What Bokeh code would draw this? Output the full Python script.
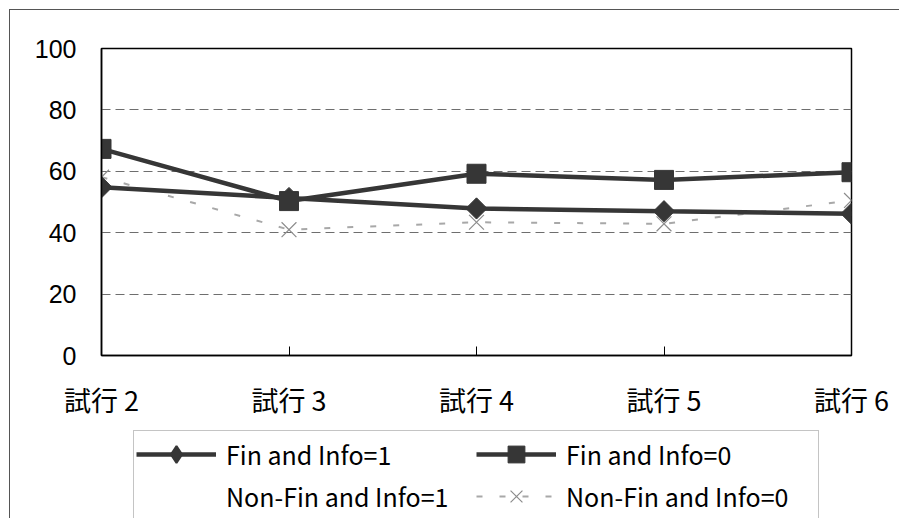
from bokeh.plotting import figure
from bokeh.layouts import column
from bokeh.models import (Range1d, FixedTicker, Legend, LegendItem, ColumnDataSource,
                          InlineStyleSheet)
from bokeh.embed import file_html
from bokeh.resources import INLINE
import math

# trial labels along the x axis
trials = ["試行 2", "試行 3", "試行 4", "試行 5", "試行 6"]
y_ticks = [0, 20, 40, 60, 80, 100]

# series values (percent)
fin_info1 = [54.8, 51.3, 47.9, 47.0, 46.2]
fin_info0 = [67.3, 50.3, 59.2, 57.2, 59.7]
nonfin_info1 = []
nonfin_info0 = [58.1, 41.0, 43.4, 42.9, 50.5]

xs = list(range(len(trials)))

CJK = "Noto Sans CJK JP"
DARK = "#363636"

# style of each series; "legend_marker" replaces the marker in the legend strip
STYLES = {
    "Fin and Info=1": dict(line=dict(line_color=DARK, line_width=4.5),
                           marker=dict(marker="square", size=15, angle=math.pi / 4,
                                       fill_color=DARK, line_color=DARK),
                           legend_marker=dict(marker="diamond", size=23,
                                              fill_color=DARK, line_color=DARK,
                                              line_width=2)),
    "Fin and Info=0": dict(line=dict(line_color=DARK, line_width=4.5),
                           marker=dict(marker="square", size=19,
                                       fill_color=DARK, line_color=DARK)),
    "Non-Fin and Info=1": dict(line=dict(line_color="white", line_alpha=0,
                                         line_width=2),
                               marker=None),
    "Non-Fin and Info=0": dict(line=dict(line_color="#a8a8a8", line_width=2,
                                         line_dash="6 17"),
                               marker=dict(marker="x", size=21,
                                           line_color="#8c8c8c", line_width=1.2)),
}
SERIES = {
    "Fin and Info=1": fin_info1,
    "Fin and Info=0": fin_info0,
    "Non-Fin and Info=1": nonfin_info1,
    "Non-Fin and Info=0": nonfin_info0,
}
# draw order: light series underneath the dark ones
DRAW_ORDER = ["Non-Fin and Info=0", "Non-Fin and Info=1",
              "Fin and Info=1", "Fin and Info=0"]
# legend order, filled column by column
LEGEND_ORDER = ["Fin and Info=1", "Non-Fin and Info=1",
                "Fin and Info=0", "Non-Fin and Info=0"]


def add_series(fig, name, for_legend=False):
    vals = SERIES[name]
    src = ColumnDataSource(dict(x=xs[:len(vals)], y=vals))
    st = STYLES[name]
    rs = [fig.line("x", "y", source=src, **st["line"])]
    marker = st["marker"]
    if for_legend and "legend_marker" in st:
        marker = st["legend_marker"]
    if marker is not None:
        rs.append(fig.scatter("x", "y", source=src, **marker))
    return rs


# ---- main chart ----
p = figure(width=899, height=430, output_backend="svg", toolbar_location=None,
           x_range=Range1d(0, len(trials) - 1), y_range=Range1d(0, 100),
           min_border_left=101, min_border_right=48, min_border_top=48,
           min_border_bottom=75, background_fill_color="white",
           border_fill_color="white")

p.outline_line_color = "black"
p.outline_line_width = 1.5

p.xaxis.ticker = FixedTicker(ticks=xs)
p.xaxis.major_label_overrides = {i: t for i, t in enumerate(trials)}
p.xaxis.major_label_text_font = CJK
p.xaxis.major_label_text_font_size = "27px"
p.xaxis.major_label_text_color = "black"
p.xaxis.major_label_standoff = 24
p.xaxis.major_tick_in = 9
p.xaxis.major_tick_out = 0
p.xaxis.minor_tick_line_color = None
p.xaxis.axis_line_width = 1.5
p.xaxis.axis_line_color = "black"
p.xaxis.major_tick_line_color = "black"

p.yaxis.ticker = FixedTicker(ticks=y_ticks)
p.yaxis.major_label_text_font = "Liberation Sans"
p.yaxis.major_label_text_font_size = "25px"
p.yaxis.major_label_text_color = "black"
p.yaxis.major_label_standoff = 25
p.yaxis.major_tick_in = 0
p.yaxis.major_tick_out = 0
p.yaxis.minor_tick_line_color = None
p.yaxis.axis_line_width = 1.5
p.yaxis.axis_line_color = "black"

p.xgrid.grid_line_color = None
p.ygrid.ticker = FixedTicker(ticks=[20, 40, 60, 80])
p.ygrid.grid_line_color = "#6e6e6e"
p.ygrid.grid_line_dash = "9 5"
p.ygrid.grid_line_width = 1.2

for name in DRAW_ORDER:
    add_series(p, name)

# ---- legend strip (its ranges keep the series themselves out of view;
#      its frame lines up with the chart frame above) ----
leg = figure(width=899, height=88, output_backend="svg", toolbar_location=None,
             x_axis_type=None, y_axis_type=None,
             x_range=Range1d(0, len(trials) - 1), y_range=Range1d(1000, 1100),
             min_border=0, background_fill_color="white",
             border_fill_color="white", outline_line_color=None)
leg.xgrid.grid_line_color = None
leg.ygrid.grid_line_color = None

legend_renderers = {name: add_series(leg, name, for_legend=True)
                    for name in DRAW_ORDER}

legend = Legend(items=[LegendItem(label=n, renderers=legend_renderers[n])
                       for n in LEGEND_ORDER],
                nrows=2, orientation="vertical", location=(32, -2))
legend.label_text_font = CJK
legend.label_text_font_size = "25px"
legend.label_text_color = "black"
legend.glyph_width = 80
legend.glyph_height = 42
legend.label_height = 36
legend.label_width = 250
legend.label_standoff = 10
legend.spacing = 0
legend.padding = 2
legend.margin = 0
legend.border_line_color = "#8a8a8a"
legend.border_line_width = 1.5
legend.background_fill_color = "white"
leg.add_layout(legend, "center")

# thin outer chart border along the top and left edges
border_css = InlineStyleSheet(css="""
:host::after {
  content: "";
  position: absolute;
  left: 9px; top: 9px; right: -30px; bottom: -30px;
  border-top: 1.5px solid #555555;
  border-left: 1.5px solid #555555;
  pointer-events: none;
}
""")

page = column(p, leg, spacing=0, stylesheets=[border_css])

open("out.html", "w").write(file_html(page, INLINE))
